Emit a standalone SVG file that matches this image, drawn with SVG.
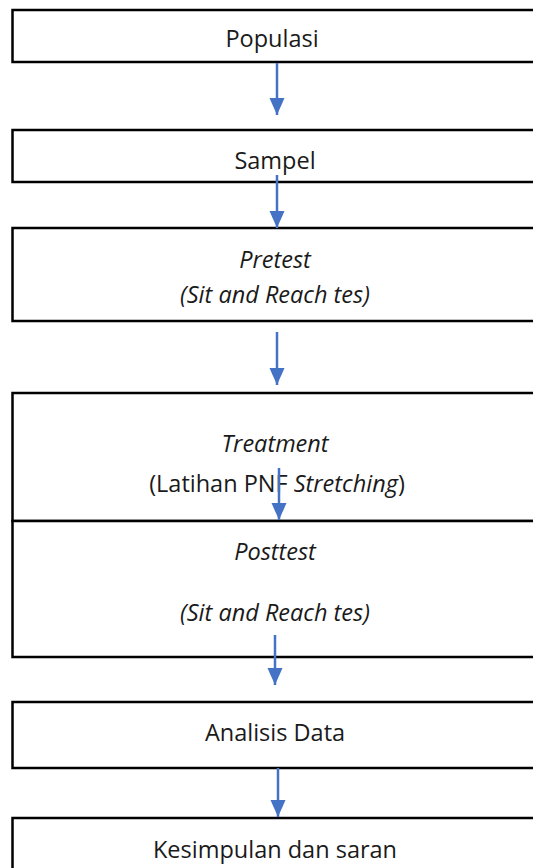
<svg xmlns="http://www.w3.org/2000/svg" width="533" height="868" viewBox="0 0 533 868">
<style>
.box{fill:#ffffff;stroke:#000000;stroke-width:2.5}
.t{font-family:"Open Sans","Noto Sans",sans-serif;font-size:23.5px;fill:#1a1a1a;text-anchor:middle}
.i{font-style:italic}
.arr{stroke:#4472C4;stroke-width:2.5;fill:none;marker-end:url(#ah)}
</style>
<defs>
<marker id="ah" markerUnits="userSpaceOnUse" markerWidth="18" markerHeight="16" refX="17" refY="8" orient="auto" viewBox="0 0 18 16">
<path d="M0,0.5 L17,8 L0,15.5 Z" fill="#4472C4"/>
</marker>
</defs>
<rect width="533" height="868" fill="#ffffff"/>
<g id="n1"><rect class="box" x="12.5" y="10" width="540" height="52"/><text class="t" x="272" y="47">Populasi</text></g>
<g id="n2"><rect class="box" x="12.5" y="130" width="540" height="52"/><text class="t" x="275" y="169">Sampel</text></g>
<g id="n3"><rect class="box" x="12.5" y="228" width="540" height="93"/><text class="t i" x="275" y="268">Pretest</text><text class="t i" x="275" y="303">(Sit and Reach tes)</text></g>
<g id="n4"><rect class="box" x="12.5" y="393" width="540" height="128"/><text class="t i" x="275" y="452">Treatment</text><text class="t" x="277" y="492">(Latihan PNF <tspan class="i">Stretching</tspan>)</text></g>
<g id="n5"><rect class="box" x="12.5" y="521" width="540" height="136"/><text class="t i" x="275" y="560">Posttest</text><text class="t i" x="275" y="621">(Sit and Reach tes)</text></g>
<g id="n6"><rect class="box" x="12.5" y="702" width="540" height="66"/><text class="t" x="275" y="741">Analisis Data</text></g>
<g id="n7"><rect class="box" x="12.5" y="818" width="540" height="60"/><text class="t" x="275" y="858">Kesimpulan dan saran</text></g>
<g id="connectors">
<path class="arr" d="M277,63 V115"/>
<path class="arr" d="M277,175 V228"/>
<path class="arr" d="M277,332 V385"/>
<path class="arr" d="M279,468 V520"/>
<path class="arr" d="M275,635 V685"/>
<path class="arr" d="M278,768 V817"/>
</g>
</svg>
